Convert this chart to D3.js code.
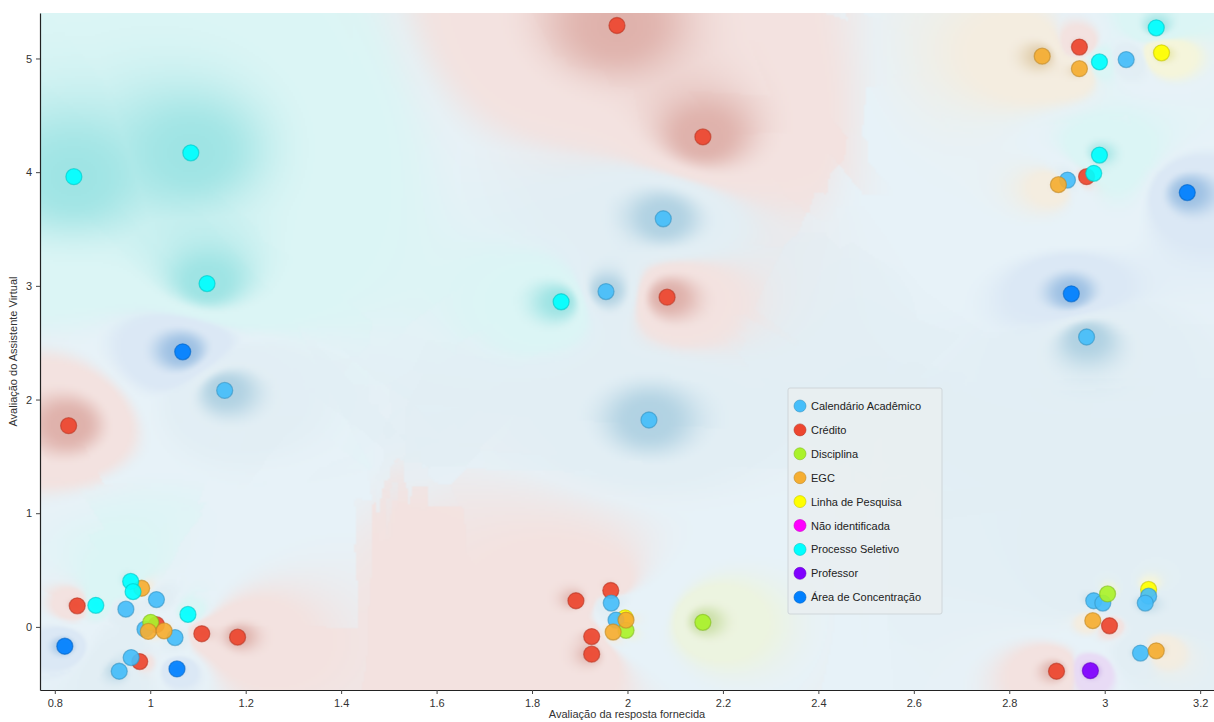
<!DOCTYPE html>
<html><head><meta charset="utf-8">
<script src="https://cdn.jsdelivr.net/npm/d3@7"></script>
<style>body{margin:0;background:#fff;} svg{display:block;font-family:"Liberation Sans",Arial,sans-serif;}</style>
</head><body><svg id="chart" width="1214" height="722"></svg>
<script>
// ---------- data ----------
const categories = ["Calendário Acadêmico","Crédito","Disciplina","EGC","Linha de Pesquisa","Não identificada","Processo Seletivo","Professor","Área de Concentração"];
const categoryColors = ["#46befa","#ed462f","#aaf22b","#f5ae32","#ffff00","#ff00ff","#00ffff","#8000ff","#0080ff"];

const calendario = [[2.075,3.59],[1.955,2.95],[2.045,1.82],[1.156,2.08],[3.045,4.99],[2.922,3.93],[2.962,2.55],
  [1.013,0.24],[0.949,0.156],[0.989,-0.02],[1.052,-0.094],[0.960,-0.27],[0.935,-0.39],
  [1.966,0.21],[1.976,0.06],[2.977,0.23],[2.996,0.21],[3.092,0.27],[3.085,0.21],[3.075,-0.23]];
const credito = [[1.978,5.29],[2.158,4.31],[2.083,2.90],[0.829,1.77],[2.947,5.10],[2.962,3.96],
  [0.847,0.185],[1.013,0.02],[1.108,-0.06],[1.183,-0.09],[0.978,-0.305],
  [1.892,0.23],[1.965,0.32],[1.925,-0.085],[1.925,-0.24],[3.010,0.01],[2.899,-0.39]];
const disciplina = [[1.001,0.04],[1.997,-0.03],[2.158,0.04],[3.006,0.29]];
const egc = [[2.869,5.02],[2.947,4.91],[2.903,3.89],[0.982,0.34],[0.996,-0.04],[1.029,-0.035],
  [1.997,0.06],[1.970,-0.045],[2.975,0.055],[3.108,-0.21]];
const linhaPesquisa = [[3.119,5.05],[1.995,0.08],[3.092,0.33]];
const naoIdentificada = [];
const processoSeletivo = [[0.84,3.96],[1.085,4.17],[1.119,3.02],[1.861,2.86],[2.989,4.97],[3.108,5.27],
  [2.989,4.15],[2.977,3.99],[0.959,0.40],[0.964,0.31],[0.886,0.19],[1.079,0.11]];
const professor = [[2.970,-0.385]];
const areaConcentracao = [[1.068,2.42],[3.173,3.82],[2.930,2.93],[0.821,-0.17],[1.056,-0.37]];

const seriesData = [calendario, credito, disciplina, egc, linhaPesquisa, naoIdentificada, processoSeletivo, professor, areaConcentracao];
const drawOrder = [4, 1, 0, 2, 3, 6, 7, 8, 5];

const xTicks = [0.8,1,1.2,1.4,1.6,1.8,2,2.2,2.4,2.6,2.8,3,3.2];
const yTicks = [0,1,2,3,4,5];
const xTitle = "Avaliação da resposta fornecida";
const yTitle = "Avaliação do Assistente Virtual";

// ---------- layout ----------
const svg = d3.select("#chart");
const L = 40, R = 1214, T = 13, B = 690;
const x = d3.scaleLinear().domain([0.769, 3.229]).range([L, R]);
const y = d3.scaleLinear().domain([-0.555, 5.40]).range([B, T]);

const points = [];
seriesData.forEach((arr, ci) => arr.forEach(p => points.push({x: p[0], y: p[1], c: ci})));

// ---------- colour regions (k-nearest-neighbour class map) ----------
(function drawRegions(){
  const W = R - L, H = B - T, step = 2;
  const cols = Math.ceil(W/step), rows = Math.ceil(H/step);
  const cv = document.createElement("canvas");
  cv.width = cols; cv.height = rows;
  const ctx = cv.getContext("2d");
  const img = ctx.createImageData(cols, rows);
  const dark = 0.72;
  const rgb = categoryColors.map(c => { const q = d3.rgb(c); return [q.r*dark, q.g*dark, q.b*dark]; });
  const neutral = [231, 242, 248];
  const P = points.map(p => ({px: x(p.x) - L, py: y(p.y) - T, c: p.c}));
  const s = 0.8, tau = 65, K = 12, eps2 = 36;
  const nC = categories.length;
  const S = new Float64Array(nC), Dn = new Float64Array(nC);
  const kd = new Float64Array(K), kc = new Int32Array(K);
  const smooth = (a, b, v) => { const t = Math.max(0, Math.min(1, (v - a)/(b - a))); return t*t*(3 - 2*t); };
  for (let j = 0; j < rows; j++) {
    const cy = (j + 0.5) * step;
    for (let i = 0; i < cols; i++) {
      const cx = (i + 0.5) * step;
      let n = 0;
      Dn.fill(Infinity);
      for (let k = 0; k < P.length; k++) {
        const dx = s * (cx - P[k].px), dy = cy - P[k].py;
        const v = dx*dx + dy*dy;
        if (v < Dn[P[k].c]) Dn[P[k].c] = v;
        if (n < K || v < kd[n-1]) {
          let m = n < K ? n++ : K - 1;
          while (m > 0 && kd[m-1] > v) { kd[m] = kd[m-1]; kc[m] = kc[m-1]; m--; }
          kd[m] = v; kc[m] = P[k].c;
        }
      }
      S.fill(0);
      for (let m = 0; m < n; m++) S[kc[m]] += 1 / (kd[m] + eps2);
      let smax = 0, win = 0, tot = 0;
      for (let c = 0; c < nC; c++) { tot += S[c]; if (S[c] > smax) { smax = S[c]; win = c; } }
      let ws = 0, r = 0, g = 0, b = 0;
      for (let c = 0; c < nC; c++) {
        if (S[c] === 0) continue;
        const w = Math.pow(S[c]/smax, 8);
        ws += w; r += w*rgb[c][0]; g += w*rgb[c][1]; b += w*rgb[c][2];
      }
      r /= ws; g /= ws; b /= ws;
      const p = smax / tot;
      const conf = smooth(0.28, 0.46, p);
      const a = 0.14 + 0.24 * Math.exp(-Dn[win] / (2*tau*tau)) * smooth(0.6, 0.95, p);
      const o = (j*cols + i) * 4;
      const pr = 255 - a*(255 - r), pg = 255 - a*(255 - g), pb = 255 - a*(255 - b);
      img.data[o]   = neutral[0] + (pr - neutral[0]) * conf;
      img.data[o+1] = neutral[1] + (pg - neutral[1]) * conf;
      img.data[o+2] = neutral[2] + (pb - neutral[2]) * conf;
      img.data[o+3] = 255;
    }
  }
  ctx.putImageData(img, 0, 0);
  svg.append("image")
    .attr("x", L).attr("y", T).attr("width", W).attr("height", H)
    .attr("preserveAspectRatio", "none")
    .attr("href", cv.toDataURL());
})();

// ---------- axes ----------
const fmt = d3.format("~g");
const xAxis = svg.append("g").attr("transform", `translate(0,${B})`)
  .call(d3.axisBottom(x).tickValues(xTicks).tickFormat(fmt).tickSize(4).tickSizeOuter(0));
const yAxis = svg.append("g").attr("transform", `translate(${L},0)`)
  .call(d3.axisLeft(y).tickValues(yTicks).tickFormat(fmt).tickSize(4).tickSizeOuter(0));
[xAxis, yAxis].forEach(a => {
  a.select(".domain").attr("stroke", "#222").attr("stroke-width", 1.2);
  a.selectAll(".tick line").attr("stroke", "#444");
  a.selectAll(".tick text").attr("fill", "#333").style("font-size", "11px").style("font-family", "Liberation Sans, Arial, sans-serif");
});
xAxis.selectAll(".tick text").attr("dy", "0.9em");
yAxis.selectAll(".tick text").attr("x", -8);

svg.append("text").attr("x", (L + R)/2).attr("y", 718).attr("text-anchor", "middle")
  .attr("fill", "#333").style("font-size", "11px").text(xTitle);
svg.append("text").attr("transform", `translate(17,${(T + B)/2}) rotate(-90)`).attr("text-anchor", "middle")
  .attr("fill", "#333").style("font-size", "11px").text(yTitle);

// ---------- points ----------
const gp = svg.append("g");
drawOrder.forEach(ci => {
  const col = d3.rgb(categoryColors[ci]);
  gp.selectAll(null).data(seriesData[ci]).enter().append("circle")
    .attr("cx", d => x(d[0])).attr("cy", d => y(d[1])).attr("r", 8)
    .attr("fill", col.formatHex()).attr("fill-opacity", 0.92)
    .attr("stroke", col.darker(0.7).formatHex()).attr("stroke-opacity", 0.6).attr("stroke-width", 1.3);
});

// ---------- legend ----------
const lg = svg.append("g").attr("transform", "translate(788,388)");
lg.append("rect").attr("width", 154).attr("height", 226).attr("rx", 2)
  .attr("fill", "#e9eef1").attr("fill-opacity", 0.9).attr("stroke", "#cfd6da");
categories.forEach((name, i) => {
  const row = lg.append("g").attr("transform", `translate(0,${18 + i*23.9})`);
  const col = d3.rgb(categoryColors[i]);
  row.append("circle").attr("cx", 12).attr("cy", 0).attr("r", 6)
    .attr("fill", col.formatHex()).attr("stroke", col.darker(0.7).formatHex()).attr("stroke-opacity", 0.6);
  row.append("text").attr("x", 23).attr("y", 4).attr("fill", "#222").style("font-size", "11px").text(name);
});
</script></body></html>
